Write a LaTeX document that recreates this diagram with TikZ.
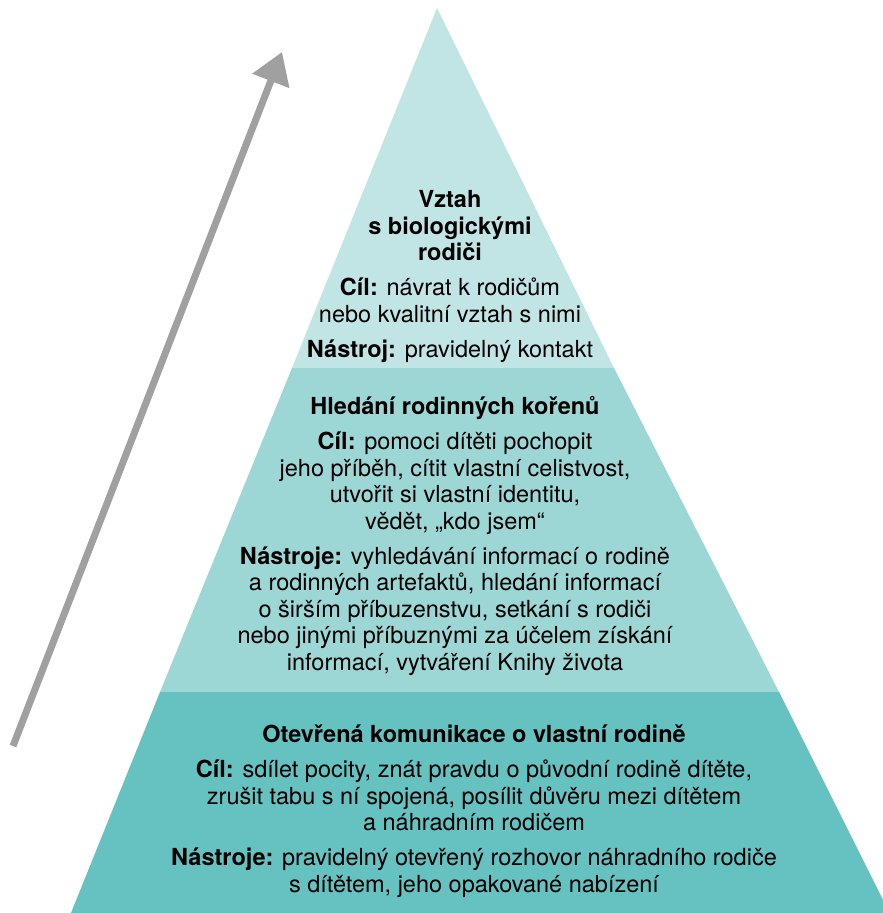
\documentclass[tikz,border=0pt]{standalone}
\usepackage{fontspec}
\setmainfont{TeX Gyre Heros}
\usetikzlibrary{positioning,arrows.meta}
\definecolor{tierlight}{RGB}{193,229,228}
\definecolor{tiermid}{RGB}{156,215,214}
\definecolor{tierdark}{RGB}{102,193,193}
\definecolor{risegray}{RGB}{160,160,160}

\begin{document}
\begin{tikzpicture}[x=1pt, y=-1pt,
    tierlabel/.style={align=center, inner sep=0pt, anchor=base, font=\fontsize{23.5}{26.5}\selectfont},
    rise/.style={-{Triangle[length=31pt, width=38pt]}, line width=7pt, draw=risegray}]
    \useasboundingbox (0,0) rectangle (883,913);
    % corners of the pyramid
    \coordinate (apex) at (437,8);
    \coordinate (top left) at (292,368);
    \coordinate (top right) at (614,368);
    \coordinate (mid left) at (160,692);
    \coordinate (mid right) at (779,692);
    \coordinate (base left) at (71,913);
    \coordinate (base right) at (883,913);
    \coordinate (edge right) at (883,900);

    \fill[tierlight] (apex) -- (top right) -- (top left) -- cycle;
    \fill[tiermid] (top left) -- (top right) -- (mid right) -- (mid left) -- cycle;
    \fill[tierdark] (mid left) -- (mid right) -- (edge right) -- (base right) -- (base left) -- cycle;

    % base anchor = baseline of the last line
    \node[tierlabel] (top) at (450,357) {\textbf{Vztah}\\ \textbf{s biologickými}\\ \textbf{rodiči}\\[8.5pt]
        \textbf{Cíl:} návrat k rodičům\\ nebo kvalitní vztah s nimi\\[8.5pt]
        \textbf{Nástroj:} pravidelný kontakt};
    \node[tierlabel] (middle) at (455,670) {\textbf{Hledání rodinných kořenů}\\[8.5pt]
        \textbf{Cíl:} pomoci dítěti pochopit\\ jeho příběh, cítit vlastní celistvost,\\ utvořit si vlastní identitu,\\ vědět, „kdo jsem“\\[8.5pt]
        \textbf{Nástroje:} vyhledávání informací o rodině\\ a rodinných artefaktů, hledání informací\\ o širším příbuzenstvu, setkání s rodiči\\ nebo jinými příbuznými za účelem získání\\ informací, vytváření Knihy života};
    \node[tierlabel] (bottom) at (474,892) {\textbf{Otevřená komunikace o vlastní rodině}\\[8.5pt]
        \textbf{Cíl:} sdílet pocity, znát pravdu o původní rodině dítěte,\\ zrušit tabu s ní spojená, posílit důvěru mezi dítětem\\ a náhradním rodičem\\[8.5pt]
        \textbf{Nástroje:} pravidelný otevřený rozhovor náhradního rodiče\\ s dítětem, jeho opakované nabízení};

    % rising arrow
    \coordinate (rise start) at (13,746);
    \coordinate (rise end) at (282,52);
    \draw[rise] (rise start) -- (rise end);
\end{tikzpicture}
\end{document}
